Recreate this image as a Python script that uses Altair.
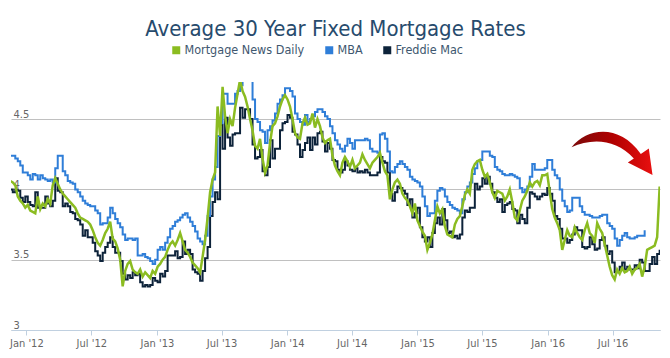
import altair as alt
import pandas as pd

# ---------------- data (weekly) ----------------
series_names = ["Mortgage News Daily", "MBA", "Freddie Mac"]
series_colors = ["#8bbc21", "#2f7ed8", "#0d233a"]

start_date = "2011-11-17"   # first weekly observation

freddie_mac = [
    4.00, 3.98, 4.00, 3.99, 3.94, 3.91, 3.95,
    3.91, 3.89, 3.88, 3.98, 3.87, 3.87, 3.87, 3.95, 3.90, 3.88, 3.92, 4.08, 3.99,
    3.98, 3.88, 3.90, 3.88, 3.84, 3.83, 3.79, 3.78, 3.75, 3.67, 3.71, 3.66, 3.66,
    3.62, 3.56, 3.53, 3.49, 3.55, 3.59, 3.62, 3.66, 3.59, 3.55, 3.55, 3.49, 3.40,
    3.36, 3.39, 3.37, 3.41, 3.39, 3.40, 3.34, 3.31, 3.32, 3.31, 3.32, 3.37, 3.35,
    3.34, 3.40, 3.38, 3.42, 3.53, 3.53, 3.53, 3.56, 3.51, 3.52, 3.63, 3.54, 3.57,
    3.54, 3.43, 3.41, 3.40, 3.35, 3.42, 3.51, 3.59, 3.81, 3.91, 3.98, 3.93, 4.46,
    4.29, 4.51, 4.37, 4.31, 4.39, 4.40, 4.40, 4.58, 4.51, 4.57, 4.57, 4.50, 4.32,
    4.22, 4.23, 4.28, 4.13, 4.10, 4.16, 4.35, 4.22, 4.29, 4.29, 4.42, 4.47, 4.48,
    4.53, 4.51, 4.41, 4.39, 4.32, 4.23, 4.28, 4.33, 4.37, 4.28, 4.37, 4.32, 4.40,
    4.41, 4.34, 4.27, 4.33, 4.29, 4.21, 4.20, 4.14, 4.12, 4.14, 4.20, 4.17, 4.14,
    4.13, 4.15, 4.12, 4.13, 4.12, 4.14, 4.12, 4.10, 4.10, 4.10, 4.12, 4.23, 4.20,
    4.19, 4.12, 3.97, 3.92, 3.98, 4.02, 4.01, 3.99, 3.97, 3.89, 3.93, 3.80, 3.83, 3.87,
    3.73, 3.66, 3.63, 3.66, 3.59, 3.69, 3.76, 3.80, 3.75, 3.86, 3.78, 3.69,
    3.70, 3.66, 3.67, 3.65, 3.68, 3.80, 3.85, 3.84, 3.87, 3.87, 4.04, 4.00, 4.02,
    4.08, 4.04, 4.09, 4.04, 3.98, 3.94, 3.91, 3.93, 3.84, 3.89, 3.90, 3.91, 3.86,
    3.85, 3.76, 3.82, 3.79, 3.76, 3.87, 3.98, 3.97, 3.95, 3.93, 3.95, 3.97, 3.96, 4.01,
    3.97, 3.92, 3.81, 3.79, 3.72, 3.65, 3.65, 3.62, 3.64, 3.68, 3.73, 3.71, 3.71,
    3.59, 3.58, 3.59, 3.66, 3.61, 3.57, 3.58, 3.64, 3.66, 3.60, 3.54, 3.56, 3.48,
    3.41, 3.42, 3.45, 3.48, 3.43, 3.45, 3.43, 3.43, 3.46, 3.44, 3.50, 3.48, 3.42,
    3.42, 3.47, 3.52, 3.47, 3.54, 3.57,
]

mba = [
    4.24, 4.24, 4.22, 4.20, 4.17, 4.12, 4.12, 4.10, 4.07, 4.11, 4.10, 4.07, 4.10,
    4.08, 4.07, 4.06, 4.07, 4.05, 4.15, 4.24, 4.24, 4.13, 4.10, 4.06, 4.05, 4.04,
    4.00, 3.98, 3.95, 3.92, 3.90, 3.89, 3.88, 3.88, 3.85, 3.83, 3.75, 3.76, 3.76,
    3.80, 3.87, 3.83, 3.79, 3.76, 3.73, 3.68, 3.64, 3.65, 3.65, 3.64, 3.65, 3.53,
    3.53, 3.54, 3.52, 3.51, 3.49, 3.47, 3.50, 3.57, 3.59, 3.57, 3.62, 3.66, 3.72,
    3.74, 3.77, 3.78, 3.80, 3.82, 3.83, 3.80, 3.77, 3.74, 3.70, 3.65, 3.63, 3.61,
    3.67, 3.81, 3.95, 4.07, 4.16, 4.38, 4.47, 4.68, 4.68, 4.61, 4.61, 4.61, 4.68,
    4.70, 4.74, 4.80, 4.80, 4.80, 4.80, 4.64, 4.50, 4.48, 4.42, 4.41, 4.33, 4.42,
    4.45, 4.49, 4.54, 4.61, 4.64, 4.67, 4.72, 4.72, 4.70, 4.66, 4.54, 4.50, 4.48,
    4.46, 4.53, 4.48, 4.50, 4.52, 4.55, 4.57, 4.57, 4.55, 4.52, 4.50, 4.45, 4.40,
    4.35, 4.32, 4.29, 4.27, 4.31, 4.36, 4.33, 4.29, 4.35, 4.35, 4.35, 4.35, 4.36,
    4.35, 4.29, 4.27, 4.27, 4.26, 4.39, 4.40, 4.36, 4.27, 4.13, 4.12, 4.16, 4.18,
    4.20, 4.18, 4.16, 4.14, 4.09, 4.07, 4.06, 4.05, 4.02, 3.95, 3.88, 3.81, 3.83,
    3.83, 3.92, 3.99, 4.01, 4.00, 3.95, 3.91, 3.89, 3.87, 3.86, 3.85, 3.83, 3.93,
    3.98, 4.02, 4.05, 4.11, 4.15, 4.20, 4.21, 4.27, 4.27, 4.27, 4.24, 4.23, 4.16,
    4.14, 4.13, 4.11, 4.10, 4.10, 4.11, 4.10, 4.09, 4.08, 4.01, 3.98, 4.00, 4.02,
    4.09, 4.18, 4.14, 4.14, 4.14, 4.14, 4.15, 4.21, 4.21, 4.14, 4.10, 4.08, 4.00,
    3.92, 3.88, 3.84, 3.85, 3.94, 3.94, 3.94, 3.88, 3.84, 3.82, 3.82, 3.81, 3.80,
    3.80, 3.80, 3.81, 3.82, 3.82, 3.76, 3.74, 3.72, 3.65, 3.60, 3.64, 3.67, 3.69,
    3.66, 3.65, 3.65, 3.66, 3.67, 3.67, 3.67, 3.71,
]

mortgage_news_daily = [
    4.06, 4.05, 4.03, 3.95, 3.92, 3.90, 3.87, 3.89, 3.85, 3.84, 3.83, 3.95, 3.86,
    3.90, 3.88, 3.93, 3.90, 4.03, 4.08, 4.04, 4.00, 3.97, 3.95, 3.93, 3.91, 3.89,
    3.87, 3.83, 3.80, 3.79, 3.78, 3.77, 3.75, 3.71, 3.66, 3.62, 3.60, 3.64, 3.69,
    3.72, 3.77, 3.65, 3.63, 3.58, 3.50, 3.31, 3.42, 3.47, 3.49, 3.43, 3.41, 3.40,
    3.43, 3.38, 3.41, 3.39, 3.37, 3.42, 3.40, 3.45, 3.47, 3.50, 3.52, 3.57, 3.61,
    3.63, 3.60, 3.64, 3.69, 3.63, 3.57, 3.55, 3.52, 3.48, 3.46, 3.44, 3.41, 3.52,
    3.64, 3.80, 3.98, 4.07, 4.12, 4.59, 4.38, 4.73, 4.52, 4.40, 4.50, 4.45, 4.58,
    4.68, 4.78, 4.70, 4.66, 4.59, 4.50, 4.42, 4.31, 4.29, 4.36, 4.22, 4.12, 4.17,
    4.33, 4.45, 4.47, 4.52, 4.59, 4.64, 4.67, 4.64, 4.59, 4.50, 4.40, 4.37, 4.36,
    4.47, 4.51, 4.46, 4.47, 4.54, 4.44, 4.50, 4.45, 4.37, 4.33, 4.35, 4.36, 4.24,
    4.17, 4.13, 4.10, 4.19, 4.23, 4.20, 4.16, 4.21, 4.15, 4.17, 4.19, 4.25, 4.21,
    4.18, 4.15, 4.19, 4.21, 4.23, 4.26, 4.19, 4.13, 4.10, 3.93, 4.00, 4.05, 4.07,
    4.04, 3.97, 3.94, 3.92, 3.88, 3.83, 3.90, 3.78, 3.74, 3.70, 3.67, 3.57, 3.62,
    3.68, 3.78, 3.88, 3.83, 3.86, 3.74, 3.68, 3.67, 3.66, 3.75, 3.79, 3.81, 3.88,
    3.96, 4.00, 3.97, 4.14, 4.18, 4.20, 4.21, 4.14, 4.09, 4.11, 4.05, 3.98, 3.94,
    3.99, 3.98, 3.97, 3.92, 3.95, 4.00, 3.91, 3.80, 3.78, 3.85, 3.92, 3.95, 3.99,
    4.05, 4.02, 4.05, 4.06, 4.03, 4.10, 4.10, 4.11, 3.98, 3.86, 3.80, 3.76, 3.71,
    3.57, 3.64, 3.71, 3.67, 3.66, 3.73, 3.69, 3.66, 3.64, 3.71, 3.76, 3.69, 3.67,
    3.62, 3.76, 3.72, 3.69, 3.61, 3.53, 3.45, 3.39, 3.36, 3.43, 3.40, 3.44, 3.41,
    3.42, 3.45, 3.40, 3.43, 3.44, 3.47, 3.38, 3.45, 3.57, 3.58, 3.59, 3.60, 3.66,
    4.02,
]

x_tick_dates = ["2012-01-01", "2012-07-01", "2013-01-01", "2013-07-01", "2014-01-01",
                "2014-07-01", "2015-01-01", "2015-07-01", "2016-01-01", "2016-07-01"]
y_ticks = [3, 3.5, 4, 4.5]
x_domain = ["2011-11-19", "2016-11-11"]
y_domain = [3, 4.764]

title_text = "Average 30 Year Fixed Mortgage Rates"

# annotation arrow (a decoration), anchored in data space
arrow_date = ["2016-06-29"]
arrow_rate = [4.266]
ARROW_PATH = ("M -0.896 -0.104 C -0.533 -0.556 0.178 -0.622 0.644 0.044 "
              "L 0.822 -0.078 L 0.904 0.511 L 0.356 0.233 L 0.489 0.144 "
              "C 0.089 -0.289 -0.444 -0.311 -0.896 -0.104 Z")


def weekly(name, values):
    dates = pd.date_range(start_date, periods=len(values), freq="7D")
    return pd.DataFrame({"date": dates.strftime("%Y-%m-%dT00:00:00"),
                         "rate": values, "series": name})


data = pd.concat([weekly("Mortgage News Daily", mortgage_news_daily),
                  weekly("MBA", mba),
                  weekly("Freddie Mac", freddie_mac)], ignore_index=True)

FONT = "DejaVu Sans Condensed, DejaVu Sans, sans-serif"


def dt(s):
    y, m, d = (int(p) for p in s.split("-"))
    return alt.DateTime(year=y, month=m, date=d)


x_enc = alt.X("date:T",
              scale=alt.Scale(domain=[dt(s) for s in x_domain]),
              axis=alt.Axis(values=[dt(s) for s in x_tick_dates], format="%b '%y",
                            title=None, grid=False, domainColor="#C0D0E0",
                            tickColor="#C0D0E0", tickSize=5, labelPadding=2,
                            labelColor="#666666", labelFontSize=11, labelFont=FONT,
                            labelFlush=False))
y_enc = alt.Y("rate:Q",
              scale=alt.Scale(domain=y_domain, nice=False, zero=False),
              axis=alt.Axis(values=y_ticks, format="~g", title=None, grid=True,
                            gridColor="#C0C0C0", gridWidth=1, domain=False,
                            ticks=False, tickSize=0, labelAlign="left",
                            labelBaseline="bottom", labelPadding=-2,
                            labelColor="#666666", labelFontSize=11, labelFont=FONT,
                            labelFlush=False))
# a square symbol of side 3 with a 5px stroke draws as a solid 8x8 square
color_enc = alt.Color("series:N",
                      scale=alt.Scale(domain=series_names, range=series_colors),
                      legend=alt.Legend(orient="none", direction="horizontal",
                                        legendX=159, legendY=-38, title=None,
                                        symbolType="square", symbolSize=9,
                                        symbolStrokeWidth=5, gridAlign="none",
                                        labelFont=FONT, labelFontSize=12.5,
                                        labelColor="#3E576F", labelOffset=2,
                                        columnPadding=12, padding=0))

base = alt.Chart(data)


def series_layer(name, interp, width):
    return (base.transform_filter(alt.datum.series == name)
            .mark_line(strokeWidth=width, interpolate=interp, clip=True,
                       strokeJoin="miter")
            .encode(x=x_enc, y=y_enc, color=color_enc))


fm_layer = series_layer("Freddie Mac", "step-after", 2)
mba_layer = series_layer("MBA", "step-after", 2)
mnd_layer = series_layer("Mortgage News Daily", "linear", 2.5)

arrow = (alt.Chart(pd.DataFrame({"date": arrow_date, "rate": arrow_rate}))
         .mark_point(shape=ARROW_PATH, size=8100, filled=True, opacity=1,
                     strokeWidth=0,
                     fill=alt.LinearGradient(gradient="linear",
                                             stops=[alt.GradientStop(color="#7a0a0a", offset=0),
                                                    alt.GradientStop(color="#b00000", offset=0.5),
                                                    alt.GradientStop(color="#e81010", offset=1)],
                                             x1=0, x2=1, y1=0, y2=0))
         .encode(x="date:T", y="rate:Q"))

chart = (alt.layer(fm_layer, mba_layer, mnd_layer, arrow)
         .properties(width=649, height=248,
                     autosize=alt.AutoSizeParams(type="none"),
                     padding={"left": 3, "top": 74, "right": 2, "bottom": 20},
                     title=alt.TitleParams(text=title_text, font=FONT, fontSize=22,
                                           fontWeight="normal", color="#274B6D",
                                           anchor="middle", frame="group", offset=3))
         .configure_view(stroke=None))

chart.save("out.html", embed_options={"renderer": "svg", "actions": False})
